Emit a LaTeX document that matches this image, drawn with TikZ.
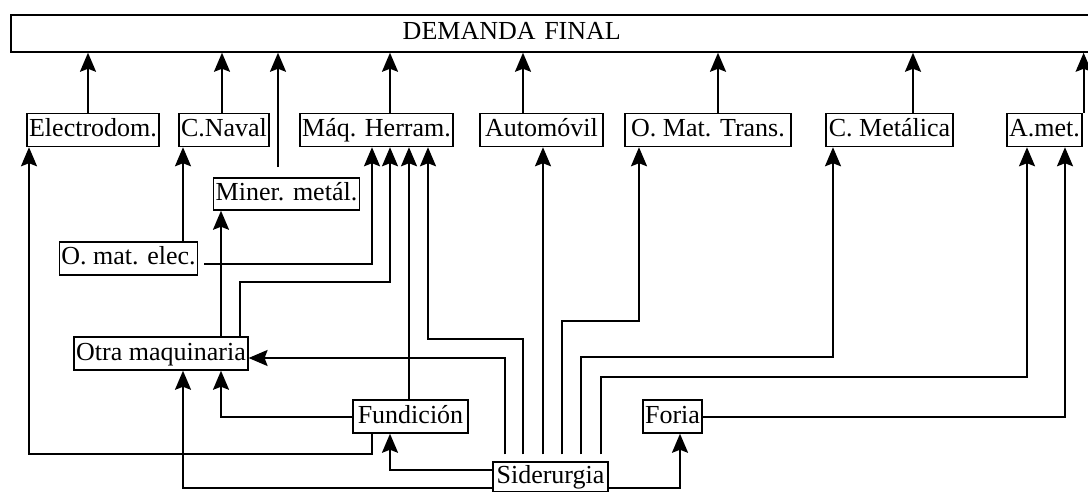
\documentclass[tikz,border=0pt]{standalone}
\usepackage{fontspec}
\setmainfont{Liberation Serif}
\usetikzlibrary{arrows.meta}

\begin{document}
\begin{tikzpicture}[x=1pt, y=-1pt,
  sector/.style={rectangle, draw, line width=1.5pt, inner xsep=2pt, inner ysep=0pt,
                 minimum height=33pt, text height=19pt, text depth=6pt,
                 font=\fontsize{26}{30}\selectfont},
  arr/.style={-{Stealth[length=19pt, width=16pt, inset=3pt]}, line width=2pt},
  gap/.style={shorten <=7pt},
]
\useasboundingbox (0,0) rectangle (1088,492);

% ---- Final demand ----
\node[sector, anchor=west, minimum height=37pt, text width=1080pt, align=left] (dem)
  at (10,33.5) {\hspace*{390pt}DEMANDA FINAL};

% ---- Row of final sectors ----
\node[sector] (elec) at (93,130) {Electrodom.};
\node[sector] (naval) at (224,130) {C.Naval};
\node[sector] (maq) at (376.5,130) {Máq. Herram.};
\node[sector, minimum width=123pt] (auto) at (541.5,130) {Automóvil};
\node[sector, minimum width=166pt] (omt) at (708,130) {O. Mat. Trans.};
\node[sector, minimum width=127pt] (cmet) at (889.5,130) {C. Metálica};
\node[sector] (amet) at (1044.5,130) {A.met.};

% ---- Intermediate sectors ----
\node[sector, minimum height=32pt] (miner) at (286.5,194) {Miner. metál.};
\node[sector] (omelec) at (128.5,258.5) {O. mat. elec.};
\node[sector] (otra) at (161,353.5) {Otra maquinaria};
\node[sector, minimum width=115pt] (fund) at (410.5,416.5) {Fundición};
\node[sector] (foria) at (672.5,416.5) {Foria};
\node[sector, minimum width=115pt, minimum height=30pt] (sider) at (550.5,477) {Siderurgia};

% ---- Into final demand ----
\draw[arr] ([xshift=-5pt]elec.north) -- ([xshift=-5pt]elec.north |- dem.south);
\draw[arr] ([xshift=-2pt]naval.north) -- ([xshift=-2pt]naval.north |- dem.south);
\draw[arr, shorten <=10pt] ([xshift=-8.5pt]miner.north) -- ([xshift=-8.5pt]miner.north |- dem.south);
\draw[arr] ([xshift=13.5pt]maq.north) -- ([xshift=13.5pt]maq.north |- dem.south);
\draw[arr] ([xshift=-18.5pt]auto.north) -- ([xshift=-18.5pt]auto.north |- dem.south);
\draw[arr] ([xshift=10pt]omt.north) -- ([xshift=10pt]omt.north |- dem.south);
\draw[arr] ([xshift=23.5pt]cmet.north) -- ([xshift=23.5pt]cmet.north |- dem.south);
\draw[arr] ([xshift=1pt]amet.north east) -- ([xshift=1pt]amet.north east |- dem.south);

% ---- Electrical and machinery links ----
\draw[arr] ([xshift=54.5pt]omelec.north) -- ([xshift=54.5pt]omelec.north |- naval.south);
\draw[arr, shorten <=6pt] ([yshift=-5.5pt]omelec.east) -| ([xshift=-4.5pt]maq.south);
\draw[arr] ([xshift=60pt]otra.north) -- ([xshift=60pt]otra.north |- miner.south);
\draw[arr] ([xshift=79pt]otra.north) -- ++(0,-54) -| ([xshift=13.5pt]maq.south);

% ---- Fundicion ----
\draw[arr] ([xshift=-1.5pt]fund.north) -- ([xshift=-1.5pt]fund.north |- maq.south);
\draw[arr] (fund.west) -| ([xshift=60pt]otra.south);
\draw[arr] ([xshift=-38.5pt]fund.south) -- ++(0,20) -| ([xshift=-64pt]elec.south);

% ---- Siderurgia ----
\draw[arr, gap] ([xshift=-45.5pt]sider.north) |- ([yshift=-4.5pt]otra.east);
\draw[arr, gap] ([xshift=-27.5pt]sider.north) -- ++(0,-122) -| ([xshift=51.5pt]maq.south);
\draw[arr, gap] ([xshift=-7.5pt]sider.north) -- ([xshift=-7.5pt]sider.north |- auto.south);
\draw[arr, gap] ([xshift=11.5pt]sider.north) -- ++(0,-140) -| ([xshift=-69pt]omt.south);
\draw[arr, gap] ([xshift=30.5pt]sider.north) -- ++(0,-104) -| ([xshift=-56.5pt]cmet.south);
\draw[arr, gap] ([xshift=50.5pt]sider.north) -- ++(0,-84) -| ([xshift=-17.5pt]amet.south);
\draw[arr] ([yshift=7pt]sider.west) -| ([xshift=-20.5pt]fund.south);
\draw[arr] ([yshift=-11pt]sider.west) -| ([xshift=22pt]otra.south);
\draw[arr] ([yshift=-11pt]sider.east) -| ([xshift=7.5pt]foria.south);

% ---- Foria ----
\draw[arr] (foria.east) -| ([xshift=20.5pt]amet.south);

\end{tikzpicture}
\end{document}
